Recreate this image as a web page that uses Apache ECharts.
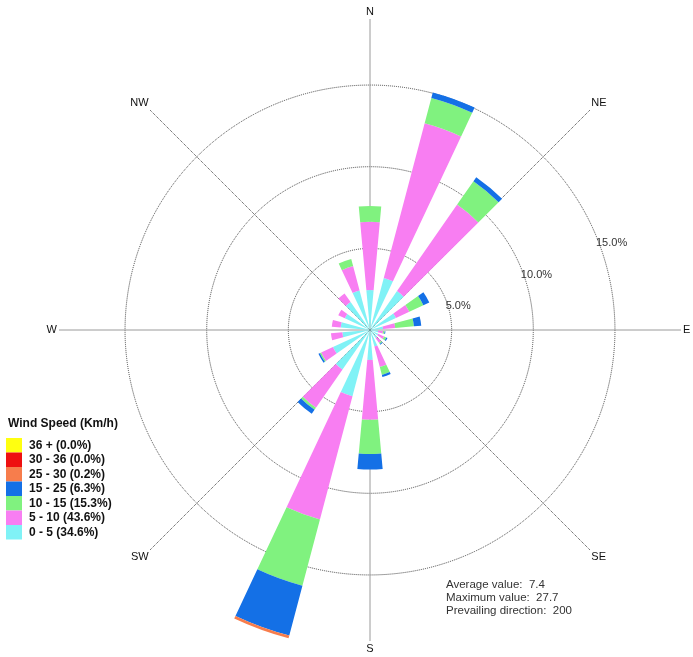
<!DOCTYPE html>
<html>
<head>
<meta charset="utf-8">
<script src="https://cdn.jsdelivr.net/npm/echarts@6.0.0/dist/echarts.min.js"></script>
<style>
  html, body { margin: 0; padding: 0; background: #fff; }
  #chart { width: 693px; height: 657px; }
</style>
</head>
<body>
<div id="chart"></div>
<script>
// Direction bins, degrees clockwise from north (20° sectors)
const directions = ['0', '20', '40', '60', '80', '100', '120', '140', '160',
                    '180', '200', '220', '240', '260', '280', '300', '320', '340'];

// Frequency (%) of each speed class per direction bin
const speed0to5   = [2.45, 3.30, 2.90, 1.75, 0.80, 0.50, 0.55, 0.60, 1.05, 1.83, 4.20, 2.95, 2.50, 1.70, 1.80, 1.70, 2.08, 2.50];
const speed5to10  = [4.18, 9.80, 6.45, 0.90, 0.75, 0.30, 0.40, 0.35, 1.30, 3.67, 7.80, 2.85, 0.80, 0.70, 0.55, 0.44, 0.65, 1.55];
const speed10to15 = [0.97, 1.60, 1.75, 0.95, 1.15, 0.10, 0.15, 0.10, 0.50, 2.10, 4.20, 0.15, 0.08, 0, 0, 0, 0, 0.45];
const speed15to25 = [0, 0.35, 0.30, 0.40, 0.45, 0.05, 0.08, 0.05, 0.12, 0.95, 3.15, 0.30, 0.10, 0, 0, 0, 0, 0];
const speed25to30 = [0, 0, 0, 0, 0, 0, 0, 0, 0, 0, 0.18, 0, 0, 0, 0, 0, 0, 0];
const speed30to36 = [0, 0, 0, 0, 0, 0, 0, 0, 0, 0, 0, 0, 0, 0, 0, 0, 0, 0];
const speed36plus = [0, 0, 0, 0, 0, 0, 0, 0, 0, 0, 0, 0, 0, 0, 0, 0, 0, 0];

// Speed classes (km/h), their overall share (%) and colours, calm to strong
const speedClasses = ['0 - 5', '5 - 10', '10 - 15', '15 - 25', '25 - 30', '30 - 36', '36 +'];
const classShares  = [34.6, 43.6, 15.3, 6.3, 0.2, 0.0, 0.0];
const classColors  = ['#80f2f6', '#f87ef2', '#80f27f', '#1470e6', '#f77d4c', '#ee1010', '#ffff10'];
const speedData = [speed0to5, speed5to10, speed10to15, speed15to25, speed25to30, speed30to36, speed36plus];

// Compass labels and frequency rings
const compassMain = ['N', 'E', 'S', 'W'];
const compassDiag = ['NE', 'SE', 'SW', 'NW'];
const ringMax = 15, ringStep = 5;

// Summary statistics
const statLabels = ['Average value:', 'Maximum value:', 'Prevailing direction:'];
const statValues = ['7.4', '27.7', '200'];

const PX_PER_PCT = 16.33;
const CENTER = [370, 330];
const FONT = 'Liberation Sans, Arial, sans-serif';

const legendNames = speedClasses.map((c, i) => `${c} (${classShares[i].toFixed(1)}%)`);

const chart = echarts.init(document.getElementById('chart'), null, { renderer: 'canvas' });

const compassAxis = (polarIndex, data, startAngle, lineStyle) => ({
  polarIndex, type: 'category', data, boundaryGap: false, startAngle, clockwise: true,
  axisLine: { show: false }, axisTick: { show: false },
  axisLabel: { margin: 2, fontSize: 11, color: '#111' },
  splitLine: { show: true, lineStyle }
});

const option = {
  animation: false,
  backgroundColor: '#fff',
  textStyle: { fontFamily: FONT },
  title: {
    text: 'Wind Speed (Km/h)', left: 8, top: 418, padding: 0,
    textStyle: { fontSize: 12, fontWeight: 'bold', color: '#111', fontFamily: FONT }
  },
  legend: {
    data: legendNames.slice().reverse(),
    orient: 'vertical', left: 6, top: 438, padding: 0,
    itemWidth: 16, itemHeight: 14.5, itemGap: 0, icon: 'rect',
    selectedMode: false,
    textStyle: { fontSize: 12, fontWeight: 'bold', color: '#111', fontFamily: FONT, padding: [0, 0, 0, 2] }
  },
  polar: [
    { center: CENTER, radius: 20 * PX_PER_PCT },      // bars
    { center: CENTER, radius: ringMax * PX_PER_PCT }, // frequency rings
    { center: CENTER, radius: 311 },                  // N/E/S/W lines
    { center: CENTER, radius: 311 }                   // diagonal lines
  ],
  angleAxis: [
    { polarIndex: 0, type: 'category', data: directions, startAngle: 100, clockwise: true, show: false },
    { polarIndex: 1, type: 'value', min: 0, max: 360, startAngle: 23, show: false },
    compassAxis(2, compassMain, 90, { color: '#9a9a9a', width: 1 }),
    compassAxis(3, compassDiag, 45, { color: '#444', width: 1, type: 'dotted' })
  ],
  radiusAxis: [
    { polarIndex: 0, type: 'value', min: 0, max: 20, show: false },
    {
      polarIndex: 1, type: 'value', min: 0, max: ringMax, interval: ringStep,
      axisLine: { show: false }, axisTick: { show: false },
      axisLabel: {
        formatter: v => (v === 0 ? '' : v.toFixed(1) + '%'),
        margin: -9, align: 'left', verticalAlign: 'middle',
        fontSize: 11, color: '#333', padding: [0, 0, 0, -3]
      },
      splitLine: { show: true, lineStyle: { type: 'dotted', color: '#444', width: 1 } }
    },
    { polarIndex: 2, type: 'value', show: false },
    { polarIndex: 3, type: 'value', show: false }
  ],
  series: speedClasses.map((c, i) => ({
    name: legendNames[i],
    type: 'bar',
    coordinateSystem: 'polar',
    polarIndex: 0,
    stack: 'wind',
    barCategoryGap: '48%',
    // empty classes are left out so they leave no sliver on the stack
    data: speedData[i].map(v => (v > 0 ? v : null)),
    itemStyle: { color: classColors[i] },
    emphasis: { disabled: true },
    z: 5
  })),
  graphic: [{
    type: 'text', left: 446, top: 578,
    style: {
      text: statLabels.map((l, i) => `${l}  ${statValues[i]}`).join('\n'),
      font: '11.5px ' + FONT, lineHeight: 13, fill: '#333'
    }
  }]
};

chart.setOption(option);
</script>
</body>
</html>
